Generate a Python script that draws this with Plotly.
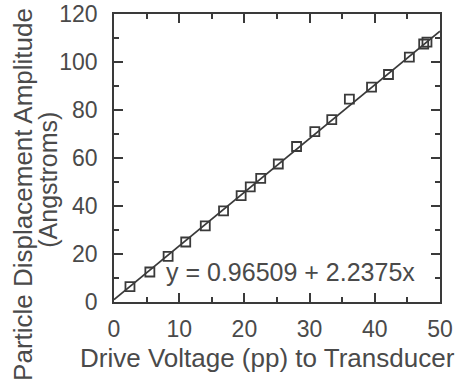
import plotly.graph_objects as go

voltage = [2.45, 5.5, 8.3, 11.0, 14.0, 16.8, 19.5, 20.9, 22.5, 25.2, 28.0, 30.8, 33.4, 36.1, 39.5, 42.1, 45.3, 47.5, 48.0]
amplitude = [6.4, 12.5, 19.0, 25.0, 31.7, 38.0, 44.3, 48.0, 51.5, 57.5, 64.8, 71.0, 76.0, 84.5, 89.5, 94.8, 102.0, 107.5, 108.3]
intercept = 0.96509
slope = 2.2375
fit_x = [0, 50]
fit_y = [intercept + slope * v for v in fit_x]
x_ticks = [0, 10, 20, 30, 40, 50]
y_ticks = [0, 20, 40, 60, 80, 100, 120]

ink = "#3a3a3a"
txt = "#4a4a4a"
font = "Liberation Sans, Arial, sans-serif"

fig = go.Figure()
fig.add_trace(go.Scatter(x=fit_x, y=fit_y, mode="lines",
                         line=dict(color=ink, width=1.8), hoverinfo="skip"))
fig.add_trace(go.Scatter(x=voltage, y=amplitude, mode="markers",
                         marker=dict(symbol="square-open", size=9, color=ink,
                                     line=dict(width=1.8, color=ink))))

fig.add_annotation(x=7.7, y=12.5, text="y = 0.96509 + 2.2375x", showarrow=False,
                   xanchor="left", yanchor="middle",
                   font=dict(family=font, size=25, color=txt))
# axis titles placed as annotations to match the reference's offsets
fig.add_annotation(xref="paper", yref="paper", x=0.472, y=-0.195, text="Drive Voltage (pp) to Transducer",
                   showarrow=False, xanchor="center", yanchor="middle",
                   font=dict(family=font, size=26, color=txt))
fig.add_annotation(xref="paper", yref="paper", x=-0.279, y=0.372, text="Particle Displacement Amplitude",
                   showarrow=False, textangle=-90, xanchor="center", yanchor="middle",
                   font=dict(family=font, size=26, color=txt))
fig.add_annotation(xref="paper", yref="paper", x=-0.203, y=0.424, text="(Angstroms)",
                   showarrow=False, textangle=-90, xanchor="center", yanchor="middle",
                   font=dict(family=font, size=25, color=txt))

axis_common = dict(showgrid=False, zeroline=False, showline=True, linecolor=ink,
                   linewidth=1.8, mirror="ticks", ticks="inside", tickcolor=ink,
                   tickwidth=1.5, ticklen=9, automargin=False, ticklabeloverflow="allow",
                   tickfont=dict(family=font, size=23, color=txt))

fig.update_xaxes(range=[0, 50], tickvals=x_ticks,
                 minor=dict(dtick=5, ticks="inside", ticklen=5, tickcolor=ink, tickwidth=1.5),
                 ticklabelstandoff=5, **axis_common)
fig.update_yaxes(range=[0, 120], tickvals=y_ticks,
                 minor=dict(dtick=10, ticks="inside", ticklen=5, tickcolor=ink, tickwidth=1.5),
                 ticklabelstandoff=10, **axis_common)

fig.update_layout(width=456, height=383, margin=dict(l=114, r=16, t=14, b=81),
                  paper_bgcolor="white", plot_bgcolor="white", showlegend=False)

# remove the page's default body margin so the 456x383 figure fills the window exactly
fig.write_html("out.html", config={"displayModeBar": False},
               post_script="document.body.style.margin='0';document.body.style.overflow='hidden';")
